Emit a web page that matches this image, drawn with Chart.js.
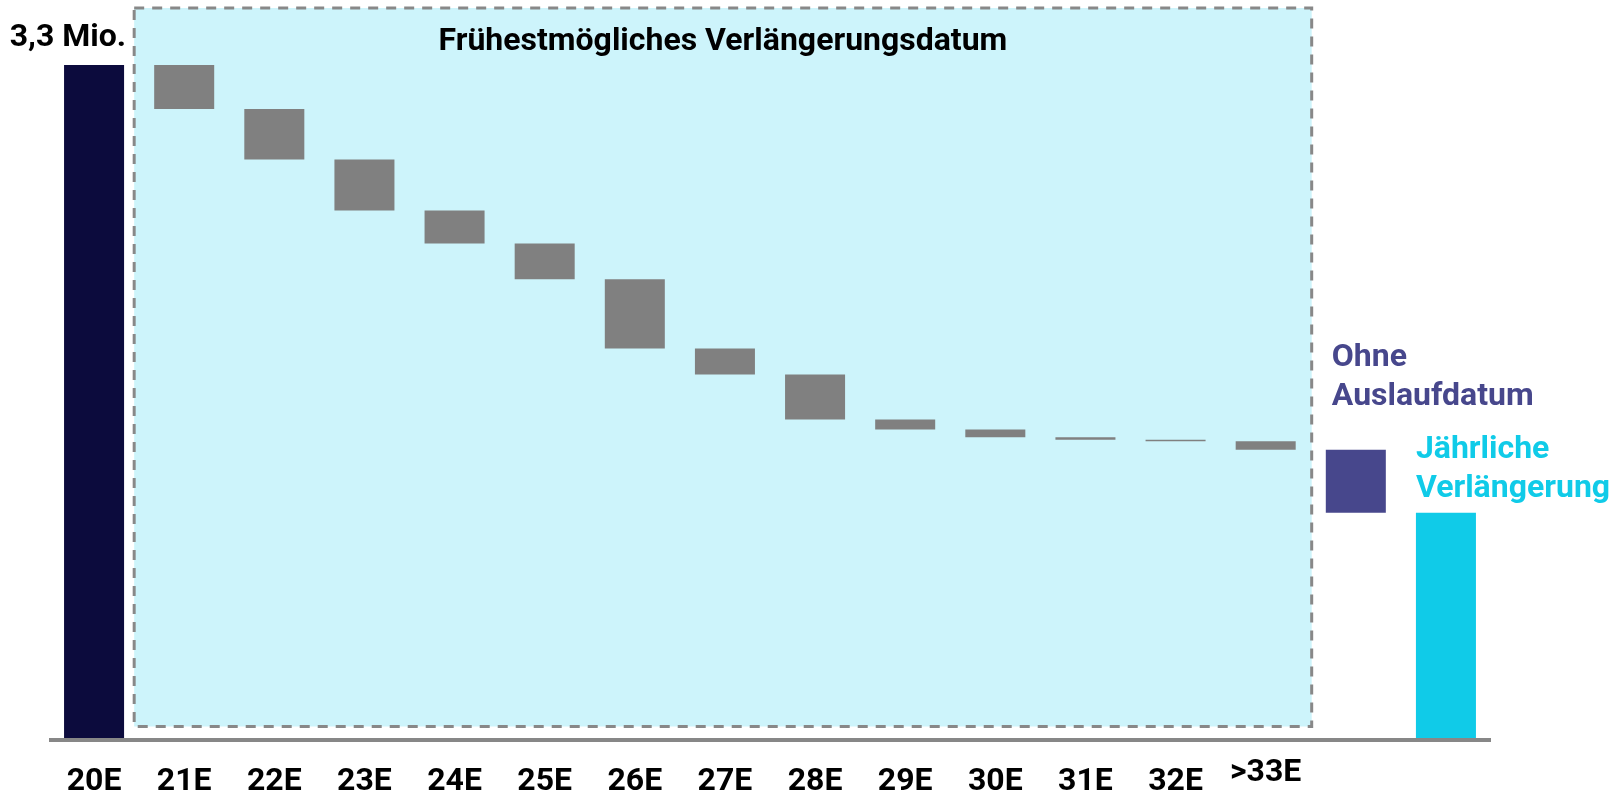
<!DOCTYPE html>
<html lang="de">
<head>
<meta charset="UTF-8">
<title>Frühestmögliches Verlängerungsdatum</title>
<script src="https://cdn.jsdelivr.net/npm/chart.js"></script>
<style>
  body { margin: 0; background: #fff; }
  #wrap { width: 1611px; height: 793px; position: relative; }
</style>
</head>
<body>
<div id="wrap"><canvas id="chart"></canvas></div>
<script>
    // Werte in Mio.
    const categories = ['20E', '21E', '22E', '23E', '24E', '25E', '26E', '27E', '28E', '29E', '30E', '31E', '32E', '>33E', 'Ohne Auslaufdatum', 'Jährliche Verlängerung'];
    const tickLabels = ['20E', '21E', '22E', '23E', '24E', '25E', '26E', '27E', '28E', '29E', '30E', '31E', '32E', '>33E', '', ''];
    const total = 3.3;
    const totalLabel = '3,3 Mio.';
    // Rückgang je Kategorie (21E ... Jährliche Verlängerung)
    const decrements = [0.216, 0.247, 0.250, 0.162, 0.176, 0.339, 0.127, 0.221, 0.049, 0.038, 0.012, 0.008, 0.042, 0.308, 1.105];
    const barColors = ['#0c0b3d', '#808080', '#808080', '#808080', '#808080', '#808080', '#808080', '#808080', '#808080', '#808080', '#808080', '#808080', '#808080', '#808080', '#47478c', '#10cbe8'];
    const boxTitle = 'Frühestmögliches Verlängerungsdatum';
    const notes = [
        { index: 14, lines: ['Ohne', 'Auslaufdatum'], color: '#47478c', dx: 6, gap: 45 },
        { index: 15, lines: ['Jährliche', 'Verlängerung'], color: '#10cbe8', dx: 0, gap: 16 }
    ];

    // Wasserfall: schwebende Balken aus den Rückgängen
    const ranges = [[0, total]];
    let level = total;
    for (let i = 0; i < decrements.length; i++) {
        const next = Math.max(0, +(level - decrements[i]).toFixed(3));
        ranges.push([next, level]);
        level = next;
    }

    const FONT = 'bold 32px Roboto';

    const drawPlugin = {
        id: 'drawPlugin',
        beforeDatasetsDraw(chart) {
            const c = chart.ctx;
            const bars = chart.getDatasetMeta(0).data;
            // gestrichelter Kasten hinter 21E ... >33E
            const left = bars[1].x - bars[1].width / 2 - 20;
            const right = bars[13].x + bars[13].width / 2 + 16;
            const top = 8, bottom = 726.5;
            c.save();
            c.fillStyle = '#cdf4fb';
            c.fillRect(left, top, right - left, bottom - top);
            c.strokeStyle = '#888888';
            c.lineWidth = 3;
            c.setLineDash([10, 8]);
            c.strokeRect(left, top, right - left, bottom - top);
            c.setLineDash([]);
            c.fillStyle = '#000';
            c.font = FONT;
            c.textAlign = 'center';
            c.textBaseline = 'alphabetic';
            c.fillText(boxTitle, (left + right) / 2, 50);
            c.restore();
        },
        afterDatasetsDraw(chart) {
            const c = chart.ctx;
            const area = chart.chartArea;
            const bars = chart.getDatasetMeta(0).data;
            c.save();
            // Grundlinie
            c.fillStyle = '#878787';
            c.fillRect(area.left, area.bottom, area.right - area.left, 4);
            // Achsenbeschriftung
            c.fillStyle = '#000';
            c.font = FONT;
            c.textAlign = 'center';
            c.textBaseline = 'alphabetic';
            tickLabels.forEach((t, i) => {
                const raise = t.startsWith('>') ? 9 : 0;
                c.fillText(t, bars[i].x, 790 - raise);
            });
            // Gesamtwert über dem ersten Balken
            c.textAlign = 'right';
            c.fillText(totalLabel, bars[0].x + bars[0].width / 2 + 2, 46);
            // Notizen über den letzten Balken
            c.textAlign = 'left';
            notes.forEach(n => {
                const b = bars[n.index];
                const topY = Math.min(b.y, b.base);
                c.fillStyle = n.color;
                const lastBase = topY - n.gap;
                const lh = 39;
                n.lines.forEach((line, k) => {
                    c.fillText(line, b.x - b.width / 2 + n.dx, lastBase - (n.lines.length - 1 - k) * lh);
                });
            });
            c.restore();
        }
    };

    const ctx = document.getElementById('chart');
    new Chart(ctx, {
        type: 'bar',
        data: {
            labels: categories,
            datasets: [{
                data: ranges,
                backgroundColor: barColors,
                borderWidth: 0,
                barPercentage: 0.666,
                categoryPercentage: 1
            }]
        },
        options: {
            responsive: true,
            maintainAspectRatio: false,
            animation: false,
            layout: { padding: { left: 49, right: 120, top: 65, bottom: 55 } },
            plugins: {
                legend: { display: false },
                tooltip: { enabled: false }
            },
            scales: {
                x: { display: false },
                y: { display: false, min: 0, max: total }
            }
        },
        plugins: [drawPlugin]
    });
</script>
</body>
</html>
